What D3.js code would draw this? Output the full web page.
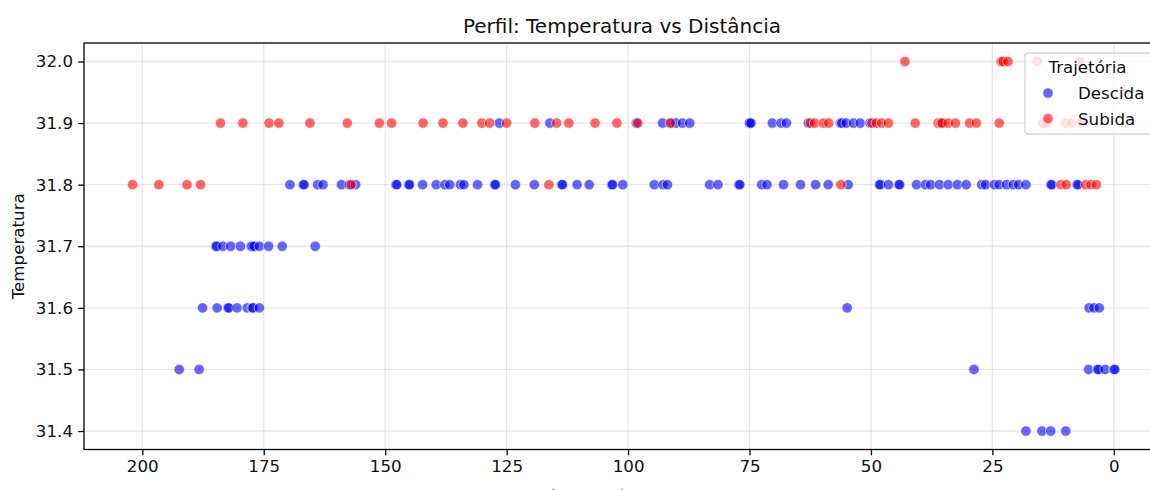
<!DOCTYPE html>
<html>
<head>
<meta charset="utf-8">
<script src="https://cdn.jsdelivr.net/npm/d3@7"></script>
<style>
  html, body { margin: 0; padding: 0; background: #fff; }
  svg { display: block; }
  text { font-family: "DejaVu Sans", sans-serif; fill: #111; }
</style>
</head>
<body>
<svg id="chart" width="1150" height="490"></svg>
<script>
// Temperature levels (°C) and the distances (m) recorded at each level
const descidaTemps = [31.9, 31.8, 31.7, 31.6, 31.5, 31.4];
const descidaDists = [
  [126.5, 116.1, 98.3, 92.9, 91.1, 90.2, 88.8, 87.3, 75.0, 75.0, 74.7, 70.3, 68.5, 67.4,
   62.9, 56.3, 56.0, 55.1, 53.6, 52.2, 50.2],
  [169.6, 166.9, 166.7, 163.9, 162.8, 159.0, 157.4, 156.1, 147.8, 147.6, 145.2, 145.0, 142.3,
   139.5, 137.7, 136.7, 134.5, 133.8, 131.0, 127.5, 127.3, 123.2, 119.3, 113.7, 113.5, 110.5,
   108.0, 103.4, 103.2, 101.1, 94.6, 92.8, 91.9, 83.2, 81.5, 77.2, 77.0, 72.5, 71.4, 68.0,
   64.5, 61.4, 58.8, 54.7, 48.3, 48.1, 46.4, 44.3, 44.1, 40.6, 38.8, 37.7, 35.9, 34.1, 32.2,
   30.4, 27.2, 26.4, 24.6, 23.6, 22.1, 20.7, 19.6, 18.1, 13.0, 12.8, 7.6, 7.4],
  [184.9, 184.7, 183.4, 181.8, 179.8, 177.6, 177.4, 177.0, 175.9, 174.0, 171.2, 164.4],
  [187.6, 184.6, 182.4, 182.2, 180.5, 178.4, 177.4, 177.2, 175.9, 54.9, 5.1, 4.1, 3.0],
  [192.4, 188.3, 28.8, 5.2, 3.4, 3.2, 1.8, 0.0, -0.2],
  [18.1, 14.8, 13.0, 9.9]
];

const subidaTemps = [32.0, 31.9, 31.8];
const subidaDists = [
  [43.0, 23.2, 22.8, 21.8, 15.8, 7.0],
  [183.9, 179.3, 173.9, 171.9, 165.5, 157.8, 151.2, 148.7, 142.2, 138.1, 134.0, 130.1, 128.5,
   125.0, 119.2, 114.7, 112.2, 106.8, 102.3, 98.0, 91.3, 62.5, 61.6, 59.8, 58.7, 49.8, 48.9,
   47.8, 46.4, 40.9, 36.2, 35.6, 35.3, 34.1, 32.6, 29.7, 28.3, 23.6, 14.6, 13.8, 9.9, 8.7, 6.6],
  [202.0, 196.6, 190.8, 188.0, 157.0, 116.3, 56.2, 10.9, 9.8, 5.8, 4.7, 3.6]
];

const xTicks = [200, 175, 150, 125, 100, 75, 50, 25, 0];
const yTicks = [31.4, 31.5, 31.6, 31.7, 31.8, 31.9, 32.0];
const trajetorias = ["Descida", "Subida"];
const cores = { Descida: "blue", Subida: "red" };

(function () {
  function flatten(temps, dists, grupo) {
    const out = [];
    temps.forEach((t, i) => dists[i].forEach(d => out.push({ dist: d, temp: t, grupo })));
    return out;
  }
  const pontos = flatten(descidaTemps, descidaDists, "Descida")
    .concat(flatten(subidaTemps, subidaDists, "Subida"));

  // Plot frame
  const mLeft = 84, mRight = 1160, mTop = 43, mBottom = 449.5;
  const svg = d3.select("#chart");

  const x = d3.scaleLinear().domain([212, -9.5]).range([mLeft, mRight]);
  const y = d3.scaleLinear().domain([31.37, 32.03]).range([mBottom, mTop]);

  const fs = 16.7;

  // Grid
  const grid = svg.append("g");
  grid.selectAll(".gx").data(xTicks).join("line")
    .attr("x1", d => x(d)).attr("x2", d => x(d))
    .attr("y1", mTop).attr("y2", mBottom)
    .attr("stroke", "#b0b0b0").attr("stroke-opacity", 0.3).attr("stroke-width", 1.3);
  grid.selectAll(".gy").data(yTicks).join("line")
    .attr("x1", mLeft).attr("x2", mRight)
    .attr("y1", d => y(d)).attr("y2", d => y(d))
    .attr("stroke", "#b0b0b0").attr("stroke-opacity", 0.3).attr("stroke-width", 1.3);

  // Scatter points
  svg.append("g").selectAll("circle").data(pontos).join("circle")
    .attr("cx", d => x(d.dist))
    .attr("cy", d => y(d.temp))
    .attr("r", 5.2)
    .attr("fill", d => cores[d.grupo]).attr("fill-opacity", 0.6)
    .attr("stroke", "#fff").attr("stroke-opacity", 0.6).attr("stroke-width", 1);

  // Axes
  const xAxis = d3.axisBottom(x).tickValues(xTicks).tickSize(5.8).tickPadding(5.2).tickFormat(d3.format("d"));
  const yAxis = d3.axisLeft(y).tickValues(yTicks).tickSize(5.8).tickPadding(5.2).tickFormat(d3.format(".1f"));

  const gx = svg.append("g").attr("transform", `translate(0,${mBottom})`).call(xAxis);
  const gy = svg.append("g").attr("transform", `translate(${mLeft},0)`).call(yAxis);
  [gx, gy].forEach(g => {
    g.select(".domain").remove();
    g.selectAll(".tick line").attr("stroke", "#000").attr("stroke-width", 1.3);
    g.selectAll(".tick text").attr("font-size", fs).attr("font-family", "DejaVu Sans").attr("fill", "#111");
  });

  // Spines
  svg.append("rect")
    .attr("x", mLeft).attr("y", mTop)
    .attr("width", mRight - mLeft).attr("height", mBottom - mTop)
    .attr("fill", "none").attr("stroke", "#000").attr("stroke-width", 1.3);

  // Title and axis labels
  svg.append("text")
    .attr("x", (mLeft + mRight) / 2).attr("y", 33)
    .attr("text-anchor", "middle").attr("font-size", 20)
    .text("Perfil: Temperatura vs Distância");

  svg.append("text")
    .attr("transform", `translate(24,${(mTop + mBottom) / 2}) rotate(-90)`)
    .attr("text-anchor", "middle").attr("font-size", fs)
    .text("Temperatura");

  // x-axis title sits just below the tick labels, at the lower edge of the figure
  svg.append("text")
    .attr("x", (mLeft + mRight) / 2).attr("y", 502)
    .attr("text-anchor", "middle").attr("font-size", fs)
    .attr("fill-opacity", 0.6)
    .text("Distância até o fundo (m)");

  // Legend
  const lg = svg.append("g");
  const lx = 1025, ly = 53, lw = 127, lh = 81;
  lg.append("rect")
    .attr("x", lx).attr("y", ly).attr("width", lw).attr("height", lh).attr("rx", 3)
    .attr("fill", "#fff").attr("fill-opacity", 0.8)
    .attr("stroke", "#ccc").attr("stroke-opacity", 0.8).attr("stroke-width", 1.3);
  lg.append("text")
    .attr("x", lx + lw / 2 - 1).attr("y", 73)
    .attr("text-anchor", "middle").attr("font-size", fs)
    .text("Trajetória");
  const itens = lg.selectAll(".item").data(trajetorias).join("g")
    .attr("transform", (d, i) => `translate(0,${93 + i * 25.5})`);
  itens.append("circle")
    .attr("cx", lx + 23).attr("cy", 0).attr("r", 5.2)
    .attr("fill", d => cores[d]).attr("fill-opacity", 0.6)
    .attr("stroke", "#fff").attr("stroke-opacity", 0.6).attr("stroke-width", 1);
  itens.append("text")
    .attr("x", lx + 53).attr("y", 6)
    .attr("font-size", fs)
    .text(d => d);
})();
</script>
</body>
</html>
